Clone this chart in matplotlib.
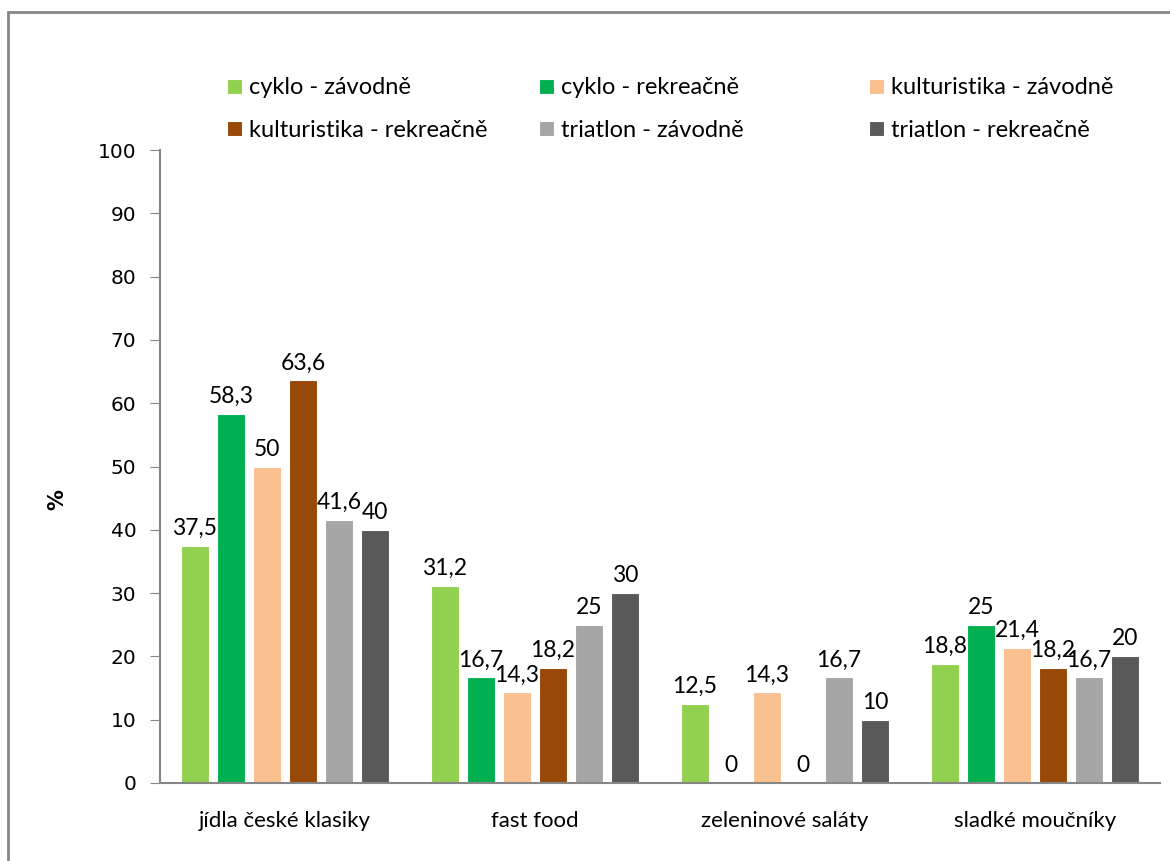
import matplotlib.pyplot as plt
import numpy as np
from matplotlib.patches import Rectangle

categories = ["jídla české klasiky", "fast food", "zeleninové saláty", "sladké moučníky"]
series_names = ["cyklo - závodně", "cyklo - rekreačně", "kulturistika - závodně",
                "kulturistika - rekreačně", "triatlon - závodně", "triatlon - rekreačně"]
cyklo_zav = [37.5, 31.2, 12.5, 18.8]
cyklo_rek = [58.3, 16.7, 0, 25]
kult_zav = [50, 14.3, 14.3, 21.4]
kult_rek = [63.6, 18.2, 0, 18.2]
tri_zav = [41.6, 25, 16.7, 16.7]
tri_rek = [40, 30, 10, 20]
colors = ["#92D050", "#00B050", "#FAC090", "#984807", "#A6A6A6", "#595959"]

series = [cyklo_zav, cyklo_rek, kult_zav, kult_rek, tri_zav, tri_rek]

plt.rcParams['font.family'] = ['Lato', 'DejaVu Sans']

fig = plt.figure(figsize=(11.7, 8.61), dpi=100)
# chart frame
fig.patches.append(Rectangle((8 / 1170, -0.05), 1.2, 1 - 12 / 861 + 0.05,
                             transform=fig.transFigure, fill=False,
                             edgecolor="#868686", linewidth=2))

ax = fig.add_axes([160 / 1170, 1 - 783 / 861, 1000 / 1170, (783 - 150) / 861])

x = np.arange(len(categories))
width = 0.112
step = 0.144
handles = []
for i, (vals, col) in enumerate(zip(series, colors)):
    pos = x + (i - 2.5) * step
    b = ax.bar(pos, vals, width, color=col, edgecolor="white", linewidth=0.8,
               label=series_names[i])
    handles.append(b)
    for p, v in zip(pos, vals):
        lab = f"{v:g}".replace(".", ",")
        ax.annotate(lab, (p, v), xytext=(0, 5), textcoords="offset points",
                    ha="center", va="bottom", fontsize=16.5)

ax.set_xlim(-0.5, 3.5)
ax.set_ylim(0, 100)
ax.set_yticks(range(0, 101, 10))
ax.set_xticks(x)
ax.set_xticklabels(categories, fontsize=16)
ax.tick_params(axis="x", length=0, pad=20)
ax.tick_params(axis="y", length=7, color="#868686", pad=10, labelsize=14.5)
for t in ax.get_yticklabels():
    t.set_fontfamily("DejaVu Sans")
for s in ["top", "right"]:
    ax.spines[s].set_visible(False)
for s in ["left", "bottom"]:
    ax.spines[s].set_color("#868686")
    ax.spines[s].set_linewidth(1.5)

fig.text(57 / 1170, 1 - 500 / 861, "%", rotation=90, fontsize=15,
         fontweight="bold", ha="center", va="center", family="DejaVu Sans")

# legend: three columns, two entries each
col_x = [218, 530, 860]
for c in range(3):
    idx = [c, c + 3]
    fig.legend([handles[i] for i in idx], [series_names[i] for i in idx],
               loc="upper left", bbox_to_anchor=(col_x[c] / 1170, 1 - 68 / 861),
               frameon=False, fontsize=17, handlelength=0.6, handleheight=0.6,
               handletextpad=0.3, labelspacing=0.9, borderaxespad=0)

fig.savefig("out.png", dpi=100)
